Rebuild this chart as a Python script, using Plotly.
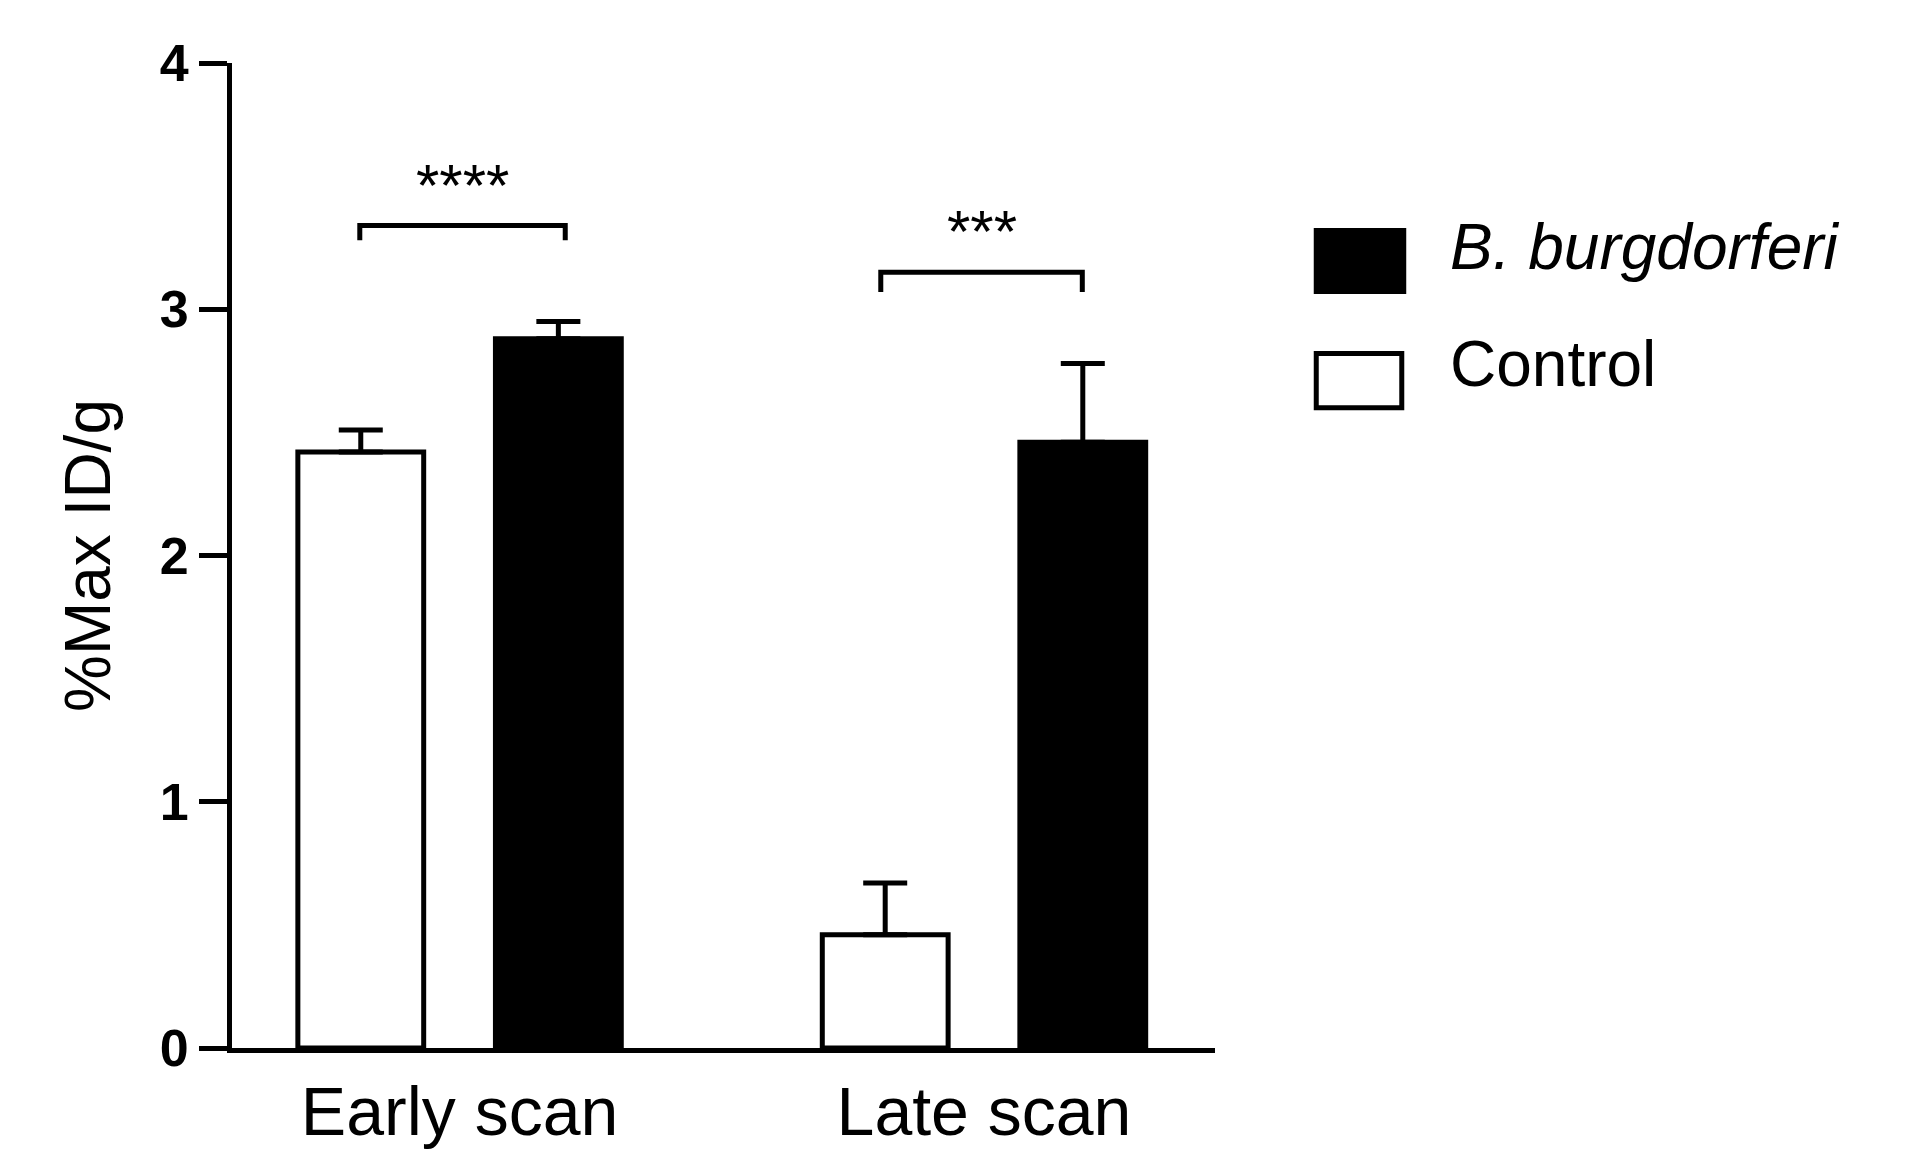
import plotly.graph_objects as go

groups = ["Early scan", "Late scan"]
control = [2.42, 0.46]
control_err = [0.09, 0.21]
bb = [2.88, 2.46]
bb_err = [0.07, 0.32]

gx = [0.2315, 0.765]
W = 0.128
fig = go.Figure()
fig.add_bar(x=gx, y=control, offset=-0.1645, width=W, marker=dict(color="white", line=dict(color="black", width=5)),
            error_y=dict(type="data", array=control_err, arrayminus=[0, 0], symmetric=False, color="black", thickness=5, width=22),
            showlegend=False)
fig.add_bar(x=gx, y=bb, offset=0.0365, width=W, marker=dict(color="black", line=dict(color="black", width=5)),
            error_y=dict(type="data", array=bb_err, arrayminus=[0, 0], symmetric=False, color="black", thickness=5, width=22),
            showlegend=False)

shapes = []
for x0, x1, y, leg in [(0.130, 0.339, 3.34, 3.28), (0.660, 0.865, 3.15, 3.07)]:
    shapes.append(dict(type="path", xref="x", yref="y",
                       path=f"M {x0},{leg} L {x0},{y} L {x1},{y} L {x1},{leg}",
                       line=dict(color="black", width=5)))
shapes.append(dict(type="rect", xref="paper", yref="paper", x0=1.103, x1=1.192, y0=0.768, y1=0.830,
                   fillcolor="black", line=dict(color="black", width=5)))
shapes.append(dict(type="rect", xref="paper", yref="paper", x0=1.103, x1=1.190, y0=0.650, y1=0.705,
                   fillcolor="white", line=dict(color="black", width=5)))

ann = [
    dict(x=0.2345, y=3.36, text="****", xref="x", yref="y", showarrow=False, yanchor="bottom", font=dict(size=60, color="black")),
    dict(x=0.7625, y=3.17, text="***", xref="x", yref="y", showarrow=False, yanchor="bottom", font=dict(size=60, color="black")),
    dict(x=1.237, y=0.799, text="<i>B. burgdorferi</i>", xref="paper", yref="paper", showarrow=False, xanchor="left", yanchor="middle", yshift=14, font=dict(size=64, color="black")),
    dict(x=1.237, y=0.680, text="Control", xref="paper", yref="paper", showarrow=False, xanchor="left", yanchor="middle", yshift=14, font=dict(size=64, color="black")),
]

fig.update_layout(
    width=1907, height=1157, plot_bgcolor="white", paper_bgcolor="white",
    margin=dict(l=224, r=700, t=55, b=117),
    font=dict(family="Liberation Sans, Arial", color="black"),
    shapes=shapes, annotations=ann, barmode="overlay",
    xaxis=dict(range=[0, 1], tickvals=gx, ticktext=groups, ticks="", showline=True, linecolor="black", linewidth=5,
               showgrid=False, zeroline=False, tickfont=dict(size=68)),
    yaxis=dict(range=[0, 4], tickvals=[0, 1, 2, 3, 4], ticks="outside", ticklen=28, tickwidth=5, tickcolor="black",
               showline=True, linecolor="black", linewidth=5, showgrid=False, zeroline=False,
               tickfont=dict(size=52, weight="bold"),
               title=dict(text="%Max ID/g", font=dict(size=64), standoff=30)),
)
fig.write_html("out.html")
